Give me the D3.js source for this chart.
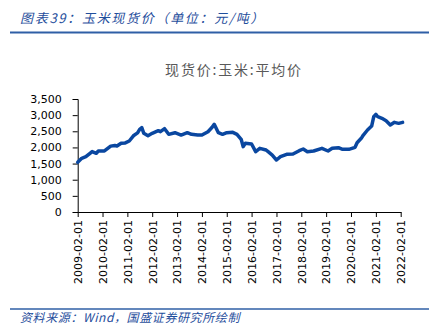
<!DOCTYPE html>
<html><head><meta charset="utf-8">
<script src="https://cdn.jsdelivr.net/npm/d3@7"></script>
<style>
html,body{margin:0;padding:0;background:#fff;}
svg{display:block;}
</style></head>
<body>
<svg id="c" width="434" height="335"></svg>
<script>
const figureTitle = "图表39：玉米现货价（单位：元/吨）";
const chartTitle = "现货价:玉米:平均价";
const sourceText = "资料来源：Wind，国盛证券研究所绘制";
const dates = ["2009-02-01","2009-04-01","2009-06-01","2009-08-01","2009-09-01","2009-11-01","2009-12-01","2010-01-01","2010-03-01","2010-06-01","2010-08-01","2010-09-01","2010-11-01","2011-01-01","2011-03-01","2011-05-01","2011-07-01","2011-08-01","2011-09-01","2011-10-01","2011-12-01","2012-02-01","2012-05-01","2012-06-01","2012-08-01","2012-10-01","2013-01-01","2013-04-01","2013-07-01","2013-09-01","2013-12-01","2014-02-01","2014-05-01","2014-07-01","2014-08-01","2014-10-01","2014-12-01","2015-02-01","2015-05-01","2015-07-01","2015-09-01","2015-10-01","2015-11-01","2016-02-01","2016-04-01","2016-06-01","2016-09-01","2016-10-01","2016-12-01","2017-02-01","2017-04-01","2017-07-01","2017-10-01","2018-01-01","2018-03-01","2018-05-01","2018-08-01","2018-12-01","2019-03-01","2019-05-01","2019-08-01","2019-10-01","2020-01-01","2020-04-01","2020-05-01","2020-07-01","2020-08-01","2020-10-01","2020-12-01","2021-01-01","2021-02-01","2021-03-01","2021-05-01","2021-07-01","2021-09-01","2021-11-01","2022-01-01","2022-03-01"];
const prices = [1540,1663,1713,1817,1870,1817,1890,1890,1890,2040,2060,2044,2130,2140,2200,2360,2450,2560,2611,2437,2363,2437,2518,2487,2580,2406,2456,2384,2456,2406,2384,2384,2487,2623,2716,2456,2406,2456,2468,2406,2251,2023,2127,2106,1868,1972,1920,1868,1765,1610,1713,1787,1796,1898,1951,1868,1889,1972,1889,1972,1991,1941,1941,2003,2146,2282,2384,2540,2663,2951,3025,2951,2901,2827,2694,2777,2746,2777];
const yTicks = [0,500,1000,1500,2000,2500,3000,3500];
const xTickLabels = ["2009-02-01","2010-02-01","2011-02-01","2012-02-01","2013-02-01","2014-02-01","2015-02-01","2016-02-01","2017-02-01","2018-02-01","2019-02-01","2020-02-01","2021-02-01","2022-02-01"];

const parse = d3.timeParse("%Y-%m-%d");
const data = dates.map((d,i)=>({date:parse(d), v:prices[i]}));
const svg = d3.select("#c");

const blue = "#1f4e9c";
const axisFont = "DejaVu Sans, Verdana, sans-serif";

// header
svg.append("text").attr("x",20).attr("y",23)
  .attr("font-family","Noto Sans CJK SC, sans-serif").attr("font-style","italic")
  .attr("font-size",13).attr("letter-spacing",1.7).attr("fill",blue).text(figureTitle);
svg.append("line").attr("x1",10).attr("x2",429).attr("y1",32.5).attr("y2",32.5)
  .attr("stroke","#2f5fa6").attr("stroke-width",2);

// footer
svg.append("line").attr("x1",10).attr("x2",429).attr("y1",309).attr("y2",309)
  .attr("stroke","#2f5fa6").attr("stroke-width",1.5);
svg.append("text").attr("x",20).attr("y",322)
  .attr("font-family","Noto Sans CJK SC, sans-serif").attr("font-style","italic")
  .attr("font-size",12).attr("letter-spacing",0.6).attr("fill",blue).text(sourceText);

// chart title
svg.append("text").attr("x",234).attr("y",75).attr("text-anchor","middle")
  .attr("font-family","Noto Sans CJK SC, sans-serif")
  .attr("font-size",14).attr("letter-spacing",1.8).attr("fill","#595959").text(chartTitle);

const x = d3.scaleTime()
  .domain([parse(xTickLabels[0]), parse(xTickLabels[xTickLabels.length-1])])
  .range([77.7, 400.7]);
const y = d3.scaleLinear().domain([0,3500]).range([212,99]);

const yAxis = svg.append("g").attr("transform","translate(77.7,0)")
  .call(d3.axisLeft(y).tickValues(yTicks).tickFormat(d3.format(",")).tickSize(5).tickPadding(11));
yAxis.select(".domain").attr("stroke","#000");
yAxis.selectAll("text").attr("font-family",axisFont).attr("font-size",11).attr("fill","#000");

const xAxis = svg.append("g").attr("transform","translate(0,212)")
  .call(d3.axisBottom(x).tickValues(xTickLabels.map(parse)).tickFormat(d3.timeFormat("%Y-%m-%d")).tickSize(5).tickSizeOuter(0));
xAxis.select(".domain").attr("stroke","#000");
xAxis.selectAll("text").attr("font-family",axisFont).attr("font-size",11).attr("fill","#000")
  .attr("transform","rotate(-90)").attr("text-anchor","end")
  .attr("x",-8).attr("y",0).attr("dy","0.35em");

const line = d3.line().x(d=>x(d.date)).y(d=>y(d.v)).curve(d3.curveLinear);
svg.append("path").datum(data).attr("d",line)
  .attr("fill","none").attr("stroke","#0a47a0").attr("stroke-width",3.5)
  .attr("stroke-linejoin","round").attr("stroke-linecap","round");
</script>
</body></html>
